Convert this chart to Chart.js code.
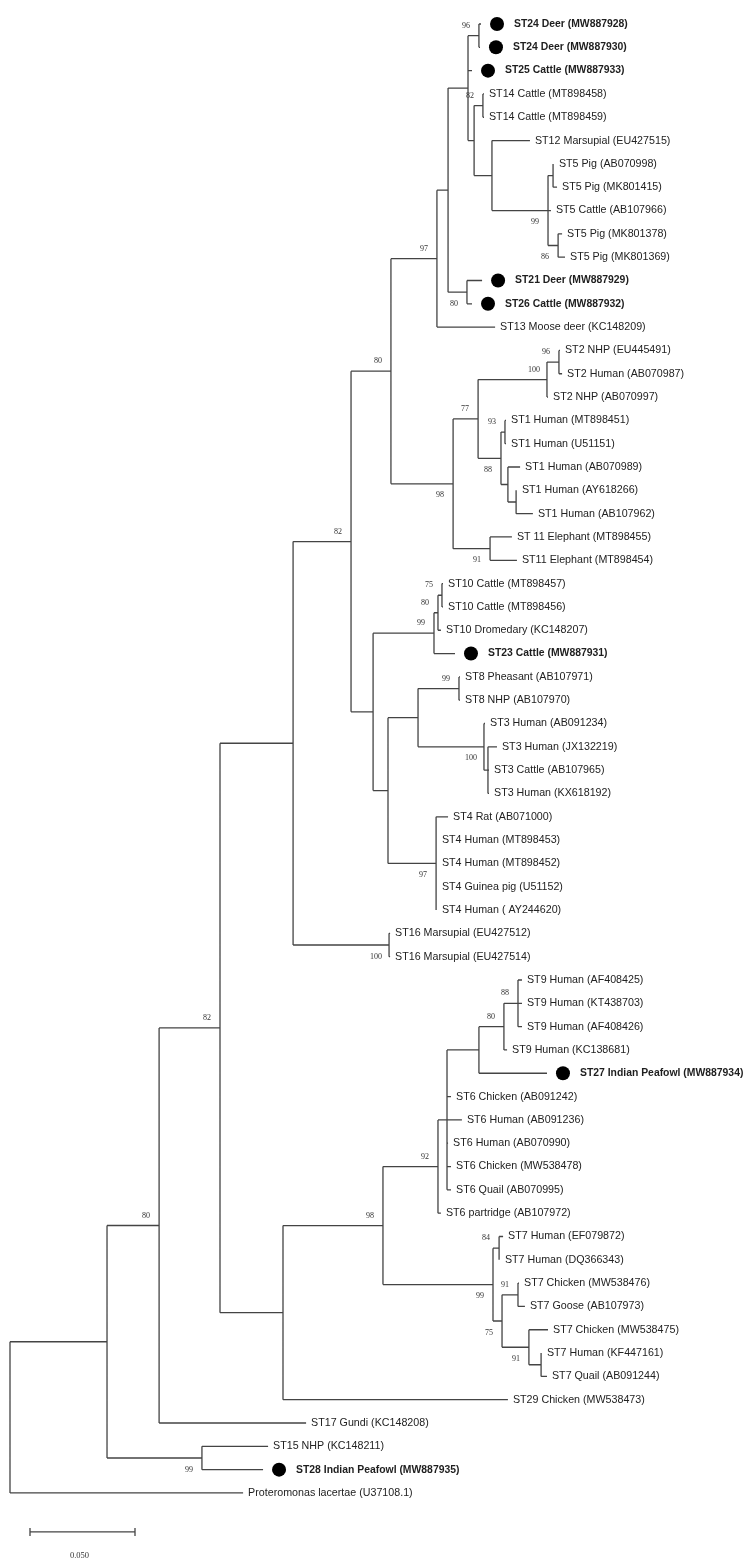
<!DOCTYPE html>
<html>
<head>
<meta charset="utf-8">
<title>Blastocystis subtype tree</title>
<script src="https://cdn.jsdelivr.net/npm/chart.js@4.4.0/dist/chart.umd.min.js"></script>
<style>
  html, body { margin: 0; padding: 0; background: #fff; }
  #wrap { width: 749px; height: 1566px; }
</style>
</head>
<body>
<div id="wrap"><canvas id="tree" width="749" height="1566"></canvas></div>
<script>
// Tip labels, top to bottom
const taxa = [
  'ST24 Deer (MW887928)', 'ST24 Deer (MW887930)', 'ST25 Cattle (MW887933)',
  'ST14 Cattle (MT898458)', 'ST14 Cattle (MT898459)', 'ST12 Marsupial (EU427515)',
  'ST5 Pig (AB070998)', 'ST5 Pig (MK801415)', 'ST5 Cattle (AB107966)',
  'ST5 Pig (MK801378)', 'ST5 Pig (MK801369)', 'ST21 Deer (MW887929)',
  'ST26 Cattle (MW887932)', 'ST13 Moose deer (KC148209)', 'ST2 NHP (EU445491)',
  'ST2 Human (AB070987)', 'ST2 NHP (AB070997)', 'ST1 Human (MT898451)',
  'ST1 Human (U51151)', 'ST1 Human (AB070989)', 'ST1 Human (AY618266)',
  'ST1 Human (AB107962)', 'ST 11 Elephant (MT898455)', 'ST11 Elephant (MT898454)',
  'ST10 Cattle (MT898457)', 'ST10 Cattle (MT898456)', 'ST10 Dromedary (KC148207)',
  'ST23 Cattle (MW887931)', 'ST8 Pheasant (AB107971)', 'ST8 NHP (AB107970)',
  'ST3 Human (AB091234)', 'ST3 Human (JX132219)', 'ST3 Cattle (AB107965)',
  'ST3 Human (KX618192)', 'ST4 Rat (AB071000)', 'ST4 Human (MT898453)',
  'ST4 Human (MT898452)', 'ST4 Guinea pig (U51152)', 'ST4 Human ( AY244620)',
  'ST16 Marsupial (EU427512)', 'ST16 Marsupial (EU427514)', 'ST9 Human (AF408425)',
  'ST9 Human (KT438703)', 'ST9 Human (AF408426)', 'ST9 Human (KC138681)',
  'ST27 Indian Peafowl (MW887934)', 'ST6 Chicken (AB091242)', 'ST6 Human (AB091236)',
  'ST6 Human (AB070990)', 'ST6 Chicken (MW538478)', 'ST6 Quail (AB070995)',
  'ST6 partridge (AB107972)', 'ST7 Human (EF079872)', 'ST7 Human (DQ366343)',
  'ST7 Chicken (MW538476)', 'ST7 Goose (AB107973)', 'ST7 Chicken (MW538475)',
  'ST7 Human (KF447161)', 'ST7 Quail (AB091244)', 'ST29 Chicken (MW538473)',
  'ST17 Gundi (KC148208)', 'ST15 NHP (KC148211)', 'ST28 Indian Peafowl (MW887935)',
  'Proteromonas lacertae (U37108.1)'
];

// Distance from the root to each tip (substitutions per site)
const tipDepth = [
  0.2243, 0.2238, 0.2200, 0.2257, 0.2257, 0.2476, 0.2590, 0.2605, 0.2576, 0.2629,
  0.2643, 0.2248, 0.2200, 0.2310, 0.2619, 0.2629, 0.2562, 0.2362, 0.2362, 0.2429,
  0.2414, 0.2490, 0.2390, 0.2414, 0.2062, 0.2062, 0.2052, 0.2119, 0.2143, 0.2143,
  0.2262, 0.2319, 0.2281, 0.2281, 0.2086, 0.2033, 0.2033, 0.2033, 0.2033, 0.1810,
  0.1810, 0.2438, 0.2438, 0.2438, 0.2367, 0.2557, 0.2100, 0.2152, 0.2086, 0.2100,
  0.2100, 0.2052, 0.2348, 0.2333, 0.2424, 0.2452, 0.2562, 0.2533, 0.2557, 0.2371,
  0.1410, 0.1229, 0.1205, 0.1110
];

// Isolates from this study (bold, marked with a dot)
const newIsolates = [0, 1, 2, 11, 12, 27, 45, 62];

// Internal nodes: depth from root, children (numbers = tips, 'cN' = node N), bootstrap
const cladeDepth = [
  0, 0.0462, 0.0710, 0.1000, 0.1348, 0.1624, 0.1814, 0.2033, 0.2086, 0.2181,
  0.2233, 0.2210, 0.2252, 0.2295, 0.2562, 0.2586, 0.2610, 0.2176, 0.2110, 0.2229,
  0.2557, 0.2614, 0.2338, 0.2357, 0.2371, 0.2410, 0.2286, 0.1729, 0.2019, 0.2038,
  0.2057, 0.1800, 0.1943, 0.2138, 0.2257, 0.2276, 0.2029, 0.1805, 0.1300, 0.1776,
  0.2038, 0.2081, 0.2233, 0.2352, 0.2419, 0.2300, 0.2329, 0.2343, 0.2419, 0.2471,
  0.2529, 0.0914
];
const cladeKids = [
  ['c1', 63], ['c2', 'c51'], ['c3', 60], ['c4', 'c38'], ['c5', 'c37'],
  ['c6', 'c27'], ['c7', 'c18'], ['c8', 13], ['c9', 'c17'], ['c10', 2, 'c11'],
  [0, 1], ['c12', 'c13'], [3, 4], [5, 'c14'], ['c15', 8, 'c16'],
  [6, 7], [9, 10], [11, 12], ['c19', 'c26'], ['c20', 'c22'],
  ['c21', 16], [14, 15], ['c23', 'c24'], [17, 18], [19, 'c25'],
  [20, 21], [22, 23], ['c28', 'c31'], ['c29', 27], ['c30', 26],
  [24, 25], ['c32', 'c36'], ['c33', 'c34'], [28, 29], [30, 'c35'],
  [31, 32, 33], [34, 35, 36, 37, 38], [39, 40], ['c39', 59], ['c40', 'c45'],
  ['c41', 51], ['c42', 46, 47, 48, 49, 50], ['c43', 45], ['c44', 44], [41, 42, 43],
  ['c46', 'c47'], [52, 53], ['c48', 'c49'], [54, 55], [56, 'c50'],
  [57, 58], [61, 62]
];
const cladeSupport = [
  null, null, 80, 82, null, 82, 80, 97, null, null,
  96, null, 82, null, 99, null, 86, 80, 98, 77,
  100, 96, 88, 93, null, null, 91, null, 99, 80,
  75, null, null, 99, 100, null, 97, 100, null, 98,
  92, null, null, 80, 88, 99, 84, 75, 91, 91,
  null, 99
];
// bootstrap values printed under the branch instead of above it
const supportBelow = [14, 16, 17, 18, 22, 26, 34, 36, 37, 45, 47, 49, 51];

const scaleBarLength = 0.05;
const scaleBarLabel = '0.050';

// ---- layout of the tree from the data ----
const cladeY = [];
const isTip = r => typeof r === 'number';
const cladeIndex = r => parseInt(r.slice(1), 10);
const yOf = r => isTip(r) ? r : cladeY[cladeIndex(r)];
const depthOf = r => isTip(r) ? tipDepth[r] : cladeDepth[cladeIndex(r)];

function placeClade(k) {
  const kids = cladeKids[k];
  kids.forEach(r => { if (!isTip(r)) placeClade(cladeIndex(r)); });
  cladeY[k] = (yOf(kids[0]) + yOf(kids[kids.length - 1])) / 2;
}
placeClade(0);

// branch segments, separated by gaps
const branches = [];
cladeKids.forEach((kids, k) => {
  const d = cladeDepth[k];
  branches.push({ x: d, y: yOf(kids[0]) }, { x: d, y: yOf(kids[kids.length - 1]) }, { x: d, y: null });
  kids.forEach(r => {
    branches.push({ x: d, y: yOf(r) }, { x: depthOf(r), y: yOf(r) }, { x: depthOf(r), y: null });
  });
});

const labelFont = '10.7px "Liberation Sans", Arial, sans-serif';
const boldFont = 'bold 10.4px "Liberation Sans", Arial, sans-serif';
const supportFont = '8px "Liberation Serif", "Times New Roman", serif';

// Tip names, dots, bootstrap values and the scale bar
const treeLabels = {
  id: 'treeLabels',
  afterDatasetsDraw(chart) {
    const { ctx, scales: { x, y } } = chart;
    ctx.save();
    ctx.textBaseline = 'middle';
    ctx.textAlign = 'left';
    taxa.forEach((name, i) => {
      const tx = x.getPixelForValue(tipDepth[i]);
      const ty = y.getPixelForValue(i);
      if (newIsolates.includes(i)) {
        ctx.fillStyle = '#000';
        ctx.beginPath();
        ctx.arc(tx + 16, ty, 7, 0, Math.PI * 2);
        ctx.fill();
        ctx.fillStyle = '#1e1e1e';
        ctx.font = boldFont;
        ctx.fillText(name, tx + 33, ty);
      } else {
        ctx.fillStyle = '#222';
        ctx.font = labelFont;
        ctx.fillText(name, tx + 5, ty);
      }
    });

    ctx.font = supportFont;
    ctx.fillStyle = '#333';
    ctx.textAlign = 'center';
    cladeSupport.forEach((v, k) => {
      if (v == null) return;
      const px = x.getPixelForValue(cladeDepth[k]);
      const py = y.getPixelForValue(cladeY[k]);
      ctx.fillText(String(v), px - 13, supportBelow.includes(k) ? py + 11.5 : py - 10);
    });

    // scale bar
    const barLen = x.getPixelForValue(scaleBarLength) - x.getPixelForValue(0);
    const bx = 30;
    const by = y.getPixelForValue(taxa.length - 1) + 39;
    ctx.strokeStyle = '#444';
    ctx.lineWidth = 1.3;
    ctx.beginPath();
    ctx.moveTo(bx, by); ctx.lineTo(bx + barLen, by);
    ctx.moveTo(bx, by - 4); ctx.lineTo(bx, by + 4);
    ctx.moveTo(bx + barLen, by - 4); ctx.lineTo(bx + barLen, by + 4);
    ctx.stroke();
    ctx.font = '8.5px "Liberation Serif", "Times New Roman", serif';
    ctx.fillText(scaleBarLabel, bx + barLen / 2 - 3, by + 24);
    ctx.restore();
  }
};

const rowPx = 23.317;   // spacing between tips
const topPx = 24;       // first tip
const rootPx = 10;      // root position
const pxPerUnit = 2100; // 0.05 = 105 px

new Chart(document.getElementById('tree'), {
  type: 'scatter',
  data: {
    datasets: [{
      data: branches,
      showLine: true,
      spanGaps: false,
      borderColor: '#444',
      borderWidth: 1.3,
      pointRadius: 0,
      pointHoverRadius: 0
    }]
  },
  options: {
    responsive: false,
    animation: false,
    devicePixelRatio: 1,
    events: [],
    layout: { padding: 0 },
    plugins: { legend: { display: false }, tooltip: { enabled: false } },
    scales: {
      x: {
        type: 'linear',
        display: false,
        min: -rootPx / pxPerUnit,
        max: (749 - rootPx) / pxPerUnit
      },
      y: {
        type: 'linear',
        display: false,
        reverse: true,
        min: -topPx / rowPx,
        max: (1566 - topPx) / rowPx
      }
    }
  },
  plugins: [treeLabels]
});
</script>
</body>
</html>
